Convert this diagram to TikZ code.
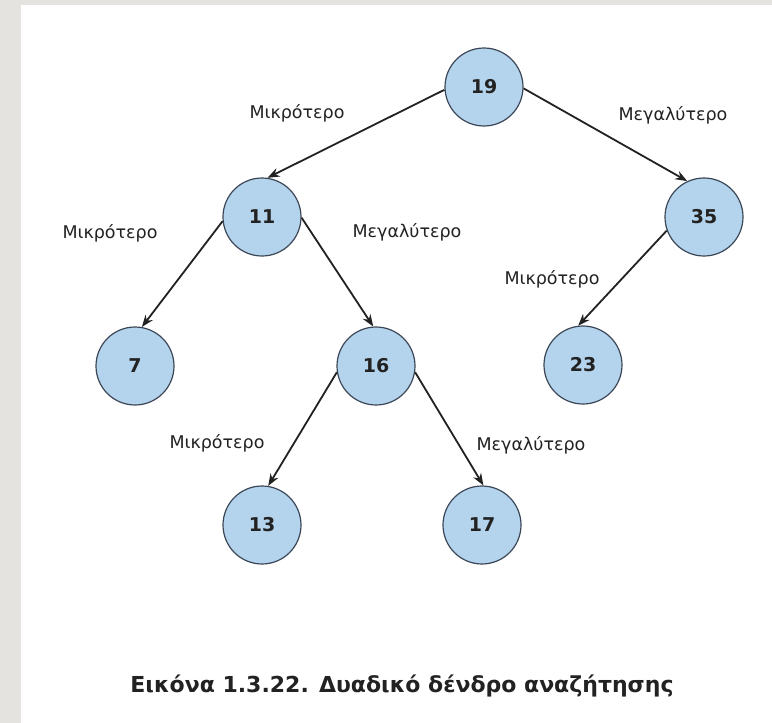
\documentclass[tikz,border=0pt]{standalone}
\usepackage{fontspec}
\setmainfont{DejaVu Sans}
\usetikzlibrary{arrows.meta}
\definecolor{pagegray}{HTML}{E5E3DF}
\definecolor{keyfill}{HTML}{B4D3EC}
\definecolor{keyline}{HTML}{3B4756}
\definecolor{inkdark}{HTML}{222222}
\begin{document}
\begin{tikzpicture}[x=1pt,y=-1pt,
  key/.style={circle,draw=keyline,line width=1.2pt,fill=keyfill,minimum size=78pt,inner sep=0pt,
    font=\fontsize{19}{22}\selectfont\bfseries,text=inkdark},
  branch/.style={font=\fontsize{17.5}{20}\selectfont,text=inkdark,inner sep=0pt},
  link/.style={draw=inkdark,line width=1.8pt,-{Stealth[length=12pt,width=9pt]}}]
  % page background
  \fill[pagegray] (0,0) rectangle (772,723);
  \fill[white] (21,5) rectangle (772,723);
  \useasboundingbox (0,0) rectangle (772,723);

  % keys of the search tree
  \node[key] (n19) at (484,87) {19};
  \node[key] (n11) at (262,217) {11};
  \node[key] (n35) at (704,217) {35};
  \node[key] (n7)  at (135,366) {7};
  \node[key] (n16) at (376,366) {16};
  \node[key] (n23) at (583,365) {23};
  \node[key] (n13) at (262,525) {13};
  \node[key] (n17) at (482,525) {17};

  % links to the children
  \draw[link] (n19.184) -- (n11.82);
  \draw[link] (n19.358) -- (n35.115);
  \draw[link] (n11.186) -- (n7.80);
  \draw[link] (n11.359) -- (n16.94);
  \draw[link] (n35.200) -- (n23.97);
  \draw[link] (n16.189) -- (n13.81);
  \draw[link] (n16.351) -- (n17.88);

  % branch labels
  \node[branch] (l1) at (297,113) {Μικρότερο};
  \node[branch] (l2) at (673,115) {Μεγαλύτερο};
  \node[branch] (l3) at (110,233) {Μικρότερο};
  \node[branch] (l4) at (407,232) {Μεγαλύτερο};
  \node[branch] (l5) at (552,279) {Μικρότερο};
  \node[branch] (l6) at (217,443) {Μικρότερο};
  \node[branch] (l7) at (531,445) {Μεγαλύτερο};

  % caption
  \node[font=\fontsize{22}{26}\selectfont\bfseries,text=inkdark,inner sep=0pt] (cap) at (402,686)
    {Εικόνα 1.3.22. Δυαδικό δένδρο αναζήτησης};
\end{tikzpicture}
\end{document}
